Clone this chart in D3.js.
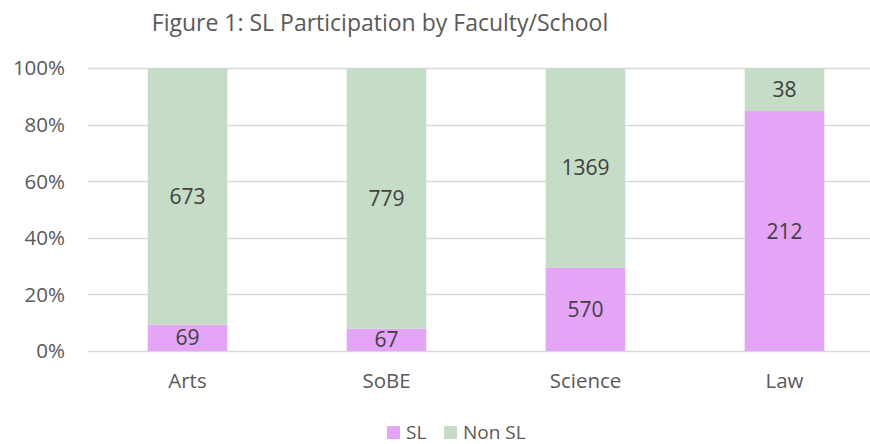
<!DOCTYPE html>
<html>
<head>
<meta charset="utf-8">
<script src="https://cdn.jsdelivr.net/npm/d3@7"></script>
<style>
  body { margin: 0; background: #fff; }
  text { font-family: "Open Sans", "Noto Sans", sans-serif; }
</style>
</head>
<body>
<svg id="chart" width="870" height="444"></svg>
<script>
var categories = ["Arts", "SoBE", "Science", "Law"];
var slValues = [69, 67, 570, 212];
var nonSlValues = [673, 779, 1369, 38];
var seriesNames = ["SL", "Non SL"];
var yTicks = [0, 0.2, 0.4, 0.6, 0.8, 1];

var colors = {"SL": "#e4a5f7", "Non SL": "#c5dcc6"};

var svg = d3.select("#chart");

var x = d3.scaleBand()
    .domain(categories)
    .range([88, 884])
    .paddingInner(0.6)
    .paddingOuter(0.3);

var y = d3.scaleLinear().domain([0, 1]).range([351, 68]);

// shares for the 100% stack
var rows = categories.map(function(c, i) {
  var total = slValues[i] + nonSlValues[i];
  return {cat: c, "SL": slValues[i] / total, "Non SL": nonSlValues[i] / total,
          raw: {"SL": slValues[i], "Non SL": nonSlValues[i]}};
});

var stacked = d3.stack().keys(seriesNames)(rows);

// gridlines
svg.append("g")
    .selectAll("line")
    .data(yTicks)
  .enter().append("line")
    .attr("x1", 88)
    .attr("x2", 884)
    .attr("y1", function(d) { return Math.round(y(d)) + 0.5; })
    .attr("y2", function(d) { return Math.round(y(d)) + 0.5; })
    .style("stroke", "#d9d9d9")
    .style("stroke-width", 1.5);

// y labels
svg.append("g")
    .selectAll("text")
    .data(yTicks)
  .enter().append("text")
    .attr("x", 65)
    .attr("y", function(d) { return y(d); })
    .attr("dy", "0.36em")
    .attr("text-anchor", "end")
    .style("font-size", "20.5px")
    .style("fill", "#595959")
    .text(d3.format(".0%"));

// bars
var layer = svg.selectAll(".layer")
    .data(stacked)
  .enter().append("g")
    .attr("class", "layer")
    .style("fill", function(d) { return colors[d.key]; });

layer.selectAll("rect")
    .data(function(d) { return d; })
  .enter().append("rect")
    .attr("x", function(d) { return x(d.data.cat); })
    .attr("y", function(d) { return y(d[1]); })
    .attr("width", x.bandwidth())
    .attr("height", function(d) { return y(d[0]) - y(d[1]); });

// data labels
stacked.forEach(function(s) {
  svg.append("g")
      .selectAll("text")
      .data(s)
    .enter().append("text")
      .attr("x", function(d) { return x(d.data.cat) + x.bandwidth() / 2; })
      .attr("y", function(d) { return y((d[0] + d[1]) / 2); })
      .attr("dy", "0.36em")
      .attr("text-anchor", "middle")
      .style("font-size", "21px")
      .style("fill", "#404040")
      .text(function(d) { return d.data.raw[s.key]; });
});

// category labels
svg.append("g")
    .selectAll("text")
    .data(categories)
  .enter().append("text")
    .attr("x", function(d) { return x(d) + x.bandwidth() / 2; })
    .attr("y", 388)
    .attr("text-anchor", "middle")
    .style("font-size", "20.5px")
    .style("fill", "#595959")
    .text(String);

// title
svg.append("text")
    .attr("x", 380)
    .attr("y", 31)
    .attr("text-anchor", "middle")
    .style("font-size", "23px")
    .style("fill", "#595959")
    .text("Figure 1: SL Participation by Faculty/School");

// legend
var legendX = [387, 444];
var legend = svg.selectAll(".legend")
    .data(seriesNames)
  .enter().append("g")
    .attr("class", "legend")
    .attr("transform", function(d, i) { return "translate(" + legendX[i] + ",426)"; });

legend.append("rect")
    .attr("width", 13)
    .attr("height", 13)
    .style("fill", function(d) { return colors[d]; });

legend.append("text")
    .attr("x", 19)
    .attr("y", 13)
    .style("font-size", "19px")
    .style("fill", "#595959")
    .text(String);
</script>
</body>
</html>
